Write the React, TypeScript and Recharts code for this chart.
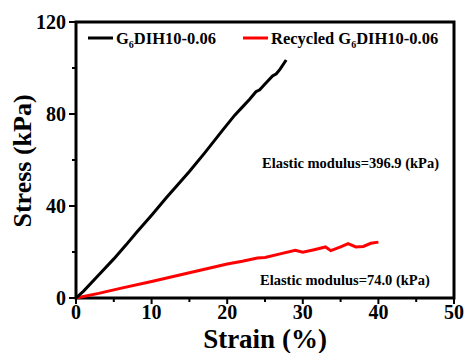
import {LineChart, Line, XAxis, YAxis, ReferenceArea} from 'recharts';

// G6DIH10-0.06 (black)
const origStrain = [0, 1, 3, 5, 6.6, 8, 10, 12, 13.2, 15, 17, 19.4, 21, 22, 23, 23.8, 24.3, 25, 26, 26.5, 27, 27.8];
const origStress = [0, 3, 10, 17, 23, 28.5, 36, 43.8, 48.3, 55, 63, 73, 79.5, 83, 86.5, 89.7, 90.5, 93, 96.5, 97.5, 99.5, 103.5];

// Recycled G6DIH10-0.06 (red)
const recStrain = [0, 3, 6, 10, 15, 20, 22, 24, 25, 27, 29, 30, 31.5, 33, 33.7, 35, 36, 37, 38, 39, 40];
const recStress = [0, 2, 4.3, 7.2, 11, 14.8, 16, 17.4, 17.6, 19.2, 20.7, 19.9, 21, 22.2, 20.6, 22.2, 23.6, 22.2, 22.4, 23.8, 24.3];

const xTicks = [0, 5, 10, 15, 20, 25, 30, 35, 40, 45, 50];
const yTicks = [0, 20, 40, 60, 80, 100, 120];

const origData = origStrain.map((x, i) => ({x, y: origStress[i]}));
const recData = recStrain.map((x, i) => ({x, y: recStress[i]}));

const FONT = '"Liberation Serif", "Times New Roman", serif';

const XTick = ({x, y, payload}: any) => {
  const major = payload.value % 10 === 0;
  return (
    <g>
      <line x1={x} x2={x} y1={y} y2={y + (major ? 6 : 4)} stroke="#000" strokeWidth={2} />
      {major && (
        <text x={x} y={y + 21} textAnchor="middle" fontFamily={FONT} fontWeight="bold" fontSize={20} fill="#000">
          {payload.value}
        </text>
      )}
    </g>
  );
};

const YTick = ({x, y, payload}: any) => {
  const major = payload.value % 40 === 0;
  return (
    <g>
      <line x1={x} x2={x - (major ? 7 : 4)} y1={y} y2={y} stroke="#000" strokeWidth={2} />
      {major && (
        <text x={x - 10} y={y + 7} textAnchor="end" fontFamily={FONT} fontWeight="bold" fontSize={20} fill="#000">
          {payload.value}
        </text>
      )}
    </g>
  );
};

export default function App() {
  return (
    <div style={{position: 'absolute', left: 0, top: 0, width: 466, height: 353, background: '#fff', fontFamily: FONT}}>
      <LineChart width={466} height={353} margin={{top: 22, right: 12, left: 0, bottom: 0}}>
        <XAxis
          type="number"
          dataKey="x"
          domain={[0, 50]}
          ticks={xTicks}
          interval={0}
          height={55}
          axisLine={false}
          tickLine={false}
          tickSize={0}
          tickMargin={0}
          tick={<XTick />}
        />
        <YAxis
          type="number"
          dataKey="y"
          domain={[0, 120]}
          ticks={yTicks}
          interval={0}
          width={76}
          axisLine={false}
          tickLine={false}
          tickSize={0}
          tickMargin={0}
          tick={<YTick />}
        />
        <ReferenceArea x1={0} x2={50} y1={0} y2={120} fill="none" stroke="#000" strokeWidth={3} />
        <Line data={recData} dataKey="y" type="linear" stroke="#ff0000" strokeWidth={3} dot={false} isAnimationActive={false} />
        <Line data={origData} dataKey="y" type="linear" stroke="#000" strokeWidth={3} dot={false} isAnimationActive={false} />
      </LineChart>
      <svg width={466} height={353} style={{position: 'absolute', left: 0, top: 0, pointerEvents: 'none'}}>
        <g fontFamily={FONT} fontWeight="bold" fill="#000">
          {/* legend */}
          <line x1={88} x2={113} y1={38} y2={38} stroke="#000" strokeWidth={3} />
          <text x={116} y={43.5} fontSize={16.5}>
            G<tspan fontSize={10} dy={4}>6</tspan><tspan dy={-4}>DIH10-0.06</tspan>
          </text>
          <line x1={243} x2={268} y1={38} y2={38} stroke="#ff0000" strokeWidth={3} />
          <text x={271} y={43.5} fontSize={16.5}>
            Recycled G<tspan fontSize={10} dy={4}>6</tspan><tspan dy={-4}>DIH10-0.06</tspan>
          </text>
          {/* annotations */}
          <text x={262} y={167.5} fontSize={14.5}>Elastic modulus=396.9 (kPa)</text>
          <text x={260} y={284.5} fontSize={14.5}>Elastic modulus=74.0 (kPa)</text>
          {/* axis titles */}
          <text x={265} y={348} fontSize={27} textAnchor="middle">Strain (%)</text>
          <text x={31} y={161} fontSize={26} textAnchor="middle" transform="rotate(-90 31 161)">Stress (kPa)</text>
        </g>
      </svg>
    </div>
  );
}
